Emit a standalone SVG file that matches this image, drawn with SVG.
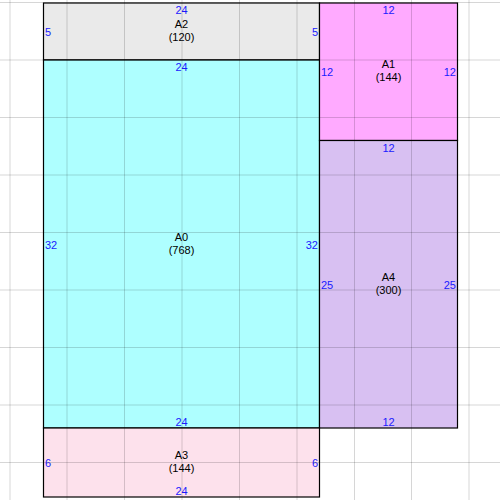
<svg xmlns="http://www.w3.org/2000/svg" width="500" height="500" viewBox="0 0 500 500">
<style>
.box{stroke:#000;stroke-width:1.2}
.nm{font-family:"Liberation Sans",Arial,sans-serif;font-size:11px;fill:#000;text-anchor:middle}
.dim{font-family:"Liberation Sans",Arial,sans-serif;font-size:11px;fill:#1a1aff}
.c{text-anchor:middle}.s{text-anchor:start}.e{text-anchor:end}
.grid line{stroke:#000;stroke-opacity:0.16;stroke-width:1}
</style>
<rect x="0" y="0" width="500" height="500" fill="#fff"/>
<g id="A2">
<rect class="box" x="43.5" y="3" width="276" height="57" fill="#eaeaea"/>
<text class="nm" x="181.5" y="28">A2</text><text class="nm" x="181.5" y="41">(120)</text>
<text class="dim c" x="181.5" y="14">24</text>
<text class="dim s" x="45" y="36">5</text><text class="dim e" x="318" y="36">5</text>
</g>
<g id="A0">
<rect class="box" x="43.5" y="60" width="276" height="368" fill="#aeffff"/>
<text class="nm" x="181.5" y="240.5">A0</text><text class="nm" x="181.5" y="253.5">(768)</text>
<text class="dim c" x="181.5" y="71">24</text><text class="dim c" x="181.5" y="426">24</text>
<text class="dim s" x="45" y="248.5">32</text><text class="dim e" x="318" y="248.5">32</text>
</g>
<g id="A1">
<rect class="box" x="319.5" y="3" width="138" height="137.5" fill="#ffaaff"/>
<text class="nm" x="388.5" y="68">A1</text><text class="nm" x="388.5" y="81">(144)</text>
<text class="dim c" x="388.5" y="14">12</text>
<text class="dim s" x="321" y="76">12</text><text class="dim e" x="456" y="76">12</text>
</g>
<g id="A4">
<rect class="box" x="319.5" y="140.5" width="138" height="287.5" fill="#d8c0f2"/>
<text class="nm" x="388.5" y="280.5">A4</text><text class="nm" x="388.5" y="293.5">(300)</text>
<text class="dim c" x="388.5" y="152">12</text><text class="dim c" x="388.5" y="426">12</text>
<text class="dim s" x="321" y="288.5">25</text><text class="dim e" x="456" y="288.5">25</text>
</g>
<g id="A3">
<rect class="box" x="43.5" y="428" width="276" height="69" fill="#fde1ec"/>
<text class="nm" x="181.5" y="459">A3</text><text class="nm" x="181.5" y="472">(144)</text>
<text class="dim c" x="181.5" y="495">24</text>
<text class="dim s" x="45" y="467">6</text><text class="dim e" x="318" y="467">6</text>
</g>
<g class="grid">
<line x1="10" y1="0" x2="10" y2="500"/><line x1="67" y1="0" x2="67" y2="500"/><line x1="124.5" y1="0" x2="124.5" y2="500"/><line x1="182" y1="0" x2="182" y2="500"/><line x1="239.5" y1="0" x2="239.5" y2="500"/><line x1="297" y1="0" x2="297" y2="500"/><line x1="354.5" y1="0" x2="354.5" y2="500"/><line x1="411.5" y1="0" x2="411.5" y2="500"/><line x1="469" y1="0" x2="469" y2="500"/>
<line x1="0" y1="2.5" x2="500" y2="2.5"/><line x1="0" y1="60" x2="500" y2="60"/><line x1="0" y1="117.5" x2="500" y2="117.5"/><line x1="0" y1="175" x2="500" y2="175"/><line x1="0" y1="232.5" x2="500" y2="232.5"/><line x1="0" y1="290" x2="500" y2="290"/><line x1="0" y1="347.5" x2="500" y2="347.5"/><line x1="0" y1="405" x2="500" y2="405"/><line x1="0" y1="462.5" x2="500" y2="462.5"/>
</g>
</svg>
